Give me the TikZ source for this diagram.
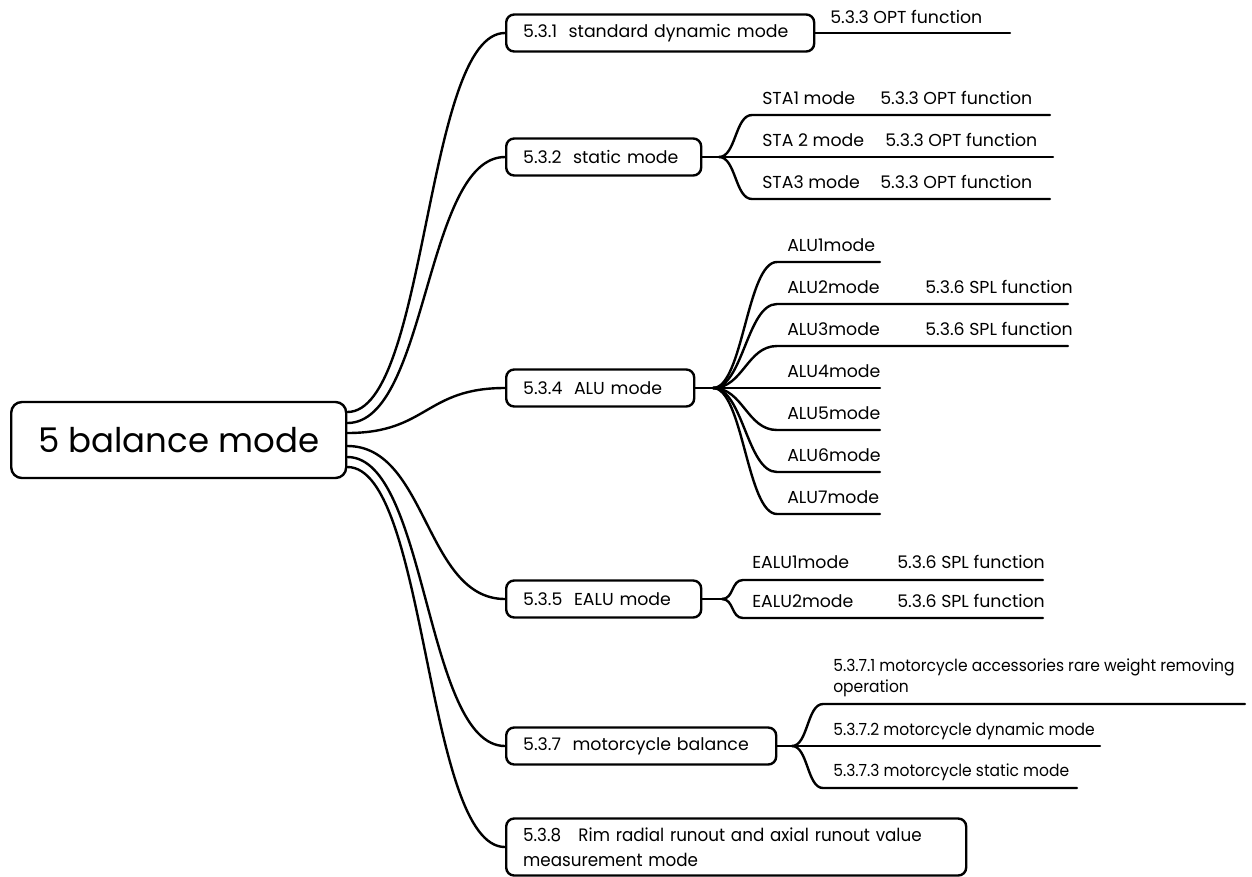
\documentclass[tikz,border=0pt]{standalone}
\usepackage{fontspec}
\setmainfont{Poppins}
\newfontfamily\condfont[FakeStretch=0.93]{Poppins}
\begin{document}
\begin{tikzpicture}[x=0.75pt, y=-0.75pt,
  box/.style={draw, rounded corners=6pt, line width=1.8pt, inner xsep=12.75pt, inner ysep=0pt,
    minimum height=27.75pt, text width=#1, align=left, anchor=west,
    font=\fontsize{13}{18.75}\selectfont},
  leaf/.style={anchor=west, inner sep=0pt, font=\fontsize{13}{15.75}\selectfont},
  cleaf/.style={anchor=west, inner sep=0pt, align=left, font=\condfont\fontsize{12.5}{15.75}\selectfont},
  conn/.style={line width=1.8pt, line cap=round}]
\useasboundingbox (0,0) rectangle (1252,876);

% root
\node[draw, rounded corners=8pt, line width=1.8pt, minimum width=251.25pt, minimum height=57pt,
  inner sep=0pt, anchor=west, font=\fontsize{25.5}{30}\selectfont] (root) at (10,440) {5 balance mode};

% first-level boxes
\node[box=205.5pt] (b1) at (505,33) {\mbox{5.3.1\ \ standard dynamic mode}};
\node[box=120.75pt] (b2) at (505,157) {\mbox{5.3.2\ \ static mode}};
\node[box=115.5pt] (b4) at (505,388) {\mbox{5.3.4\ \ ALU mode}};
\node[box=120.75pt] (b5) at (505,599) {\mbox{5.3.5\ \ EALU mode}};
\node[box=177pt] (b7) at (505,746) {\mbox{5.3.7\ \ motorcycle balance}};
\node[box=319.5pt, minimum height=42.75pt] (b8) at (505,847) {\condfont\fontsize{13.5}{18.75}\selectfont 5.3.8\ \ \ Rim radial runout and axial runout value\\measurement mode};

% root connectors
\draw[conn] ([yshift=21pt]root.east) .. controls +(80,0) and +(-80,0) .. (b1.west);
\draw[conn] ([yshift=12.75pt]root.east) .. controls +(80,0) and +(-80,0) .. (b2.west);
\draw[conn] ([yshift=5.25pt]root.east) .. controls +(80,0) and +(-80,0) .. (b4.west);
\draw[conn] ([yshift=-4.5pt]root.east) .. controls +(80,0) and +(-80,0) .. (b5.west);
\draw[conn] ([yshift=-12.75pt]root.east) .. controls +(80,0) and +(-80,0) .. (b7.west);
\draw[conn] ([yshift=-20.25pt]root.east) .. controls +(80,0) and +(-80,0) .. (b8.west);

% 5.3.1
\coordinate (e1) at (1010,33);
\draw[conn] (b1.east) -- (e1);
\node[leaf] (o1) at (830,17) {5.3.3 OPT function};

% 5.3.2
\coordinate (j2) at (719,157);
\coordinate (s1a) at (752,115); \coordinate (s1b) at (1050,115);
\coordinate (s2b) at (1053,157);
\coordinate (s3a) at (752,199); \coordinate (s3b) at (1050,199);
\draw[conn] (b2.east) -- (j2);
\draw[conn] (j2) .. controls +(17,0) and +(-17,0) .. (s1a) -- (s1b);
\draw[conn] (j2) -- (s2b);
\draw[conn] (j2) .. controls +(17,0) and +(-17,0) .. (s3a) -- (s3b);
\node[leaf] (sta1) at (762,98) {STA1 mode};
\node[leaf] (o21) at (880,98) {5.3.3 OPT function};
\node[leaf] (sta2) at (762,140) {STA 2 mode};
\node[leaf] (o22) at (885,140) {5.3.3 OPT function};
\node[leaf] (sta3) at (762,182) {STA3 mode};
\node[leaf] (o23) at (880,182) {5.3.3 OPT function};

% 5.3.4 ALU
\coordinate (j4) at (713,388);
\draw[conn] (b4.east) -- (j4);
\foreach \i/\y/\e in {1/262/880, 2/304/1068, 3/346/1068, 5/430/880, 6/472/880, 7/514/880}{
  \coordinate (a\i a) at (777,\y);
  \coordinate (a\i b) at (\e,\y);
  \draw[conn] (j4) .. controls +(30,0) and +(-30,0) .. (a\i a) -- (a\i b);
  \node[leaf] (alu\i) at (787,\y-17) {ALU\i mode};
}
\coordinate (a4b) at (880,388);
\draw[conn] (j4) -- (a4b);
\node[leaf] (alu4) at (787,371) {ALU4mode};
\node[leaf] (spl2) at (925,287) {5.3.6 SPL function};
\node[leaf] (spl3) at (925,329) {5.3.6 SPL function};

% 5.3.5 EALU
\coordinate (j5) at (722,599);
\coordinate (ea1a) at (743,580); \coordinate (ea1b) at (1043,580);
\coordinate (ea2a) at (743,618); \coordinate (ea2b) at (1043,618);
\draw[conn] (b5.east) -- (j5);
\draw[conn] (j5) .. controls +(12,0) and +(-12,0) .. (ea1a) -- (ea1b);
\draw[conn] (j5) .. controls +(12,0) and +(-12,0) .. (ea2a) -- (ea2b);
\node[leaf] (ealu1) at (752,562) {EALU1mode};
\node[leaf] (spl51) at (897,562) {5.3.6 SPL function};
\node[leaf] (ealu2) at (752,601) {EALU2mode};
\node[leaf] (spl52) at (897,601) {5.3.6 SPL function};

% 5.3.7 motorcycle
\coordinate (j7) at (792,746);
\coordinate (m1a) at (823,704); \coordinate (m1b) at (1245,704);
\coordinate (m2b) at (1100,746);
\coordinate (m3a) at (823,788); \coordinate (m3b) at (1077,788);
\draw[conn] (b7.east) -- (j7);
\draw[conn] (j7) .. controls +(16,0) and +(-16,0) .. (m1a) -- (m1b);
\draw[conn] (j7) -- (m2b);
\draw[conn] (j7) .. controls +(16,0) and +(-16,0) .. (m3a) -- (m3b);
\node[cleaf] (m1) at (833,678) {5.3.7.1 motorcycle accessories rare weight removing\\operation};
\node[cleaf] (m2) at (833,731) {5.3.7.2 motorcycle dynamic mode};
\node[cleaf] (m3) at (833,772) {5.3.7.3 motorcycle static mode};
\end{tikzpicture}
\end{document}
